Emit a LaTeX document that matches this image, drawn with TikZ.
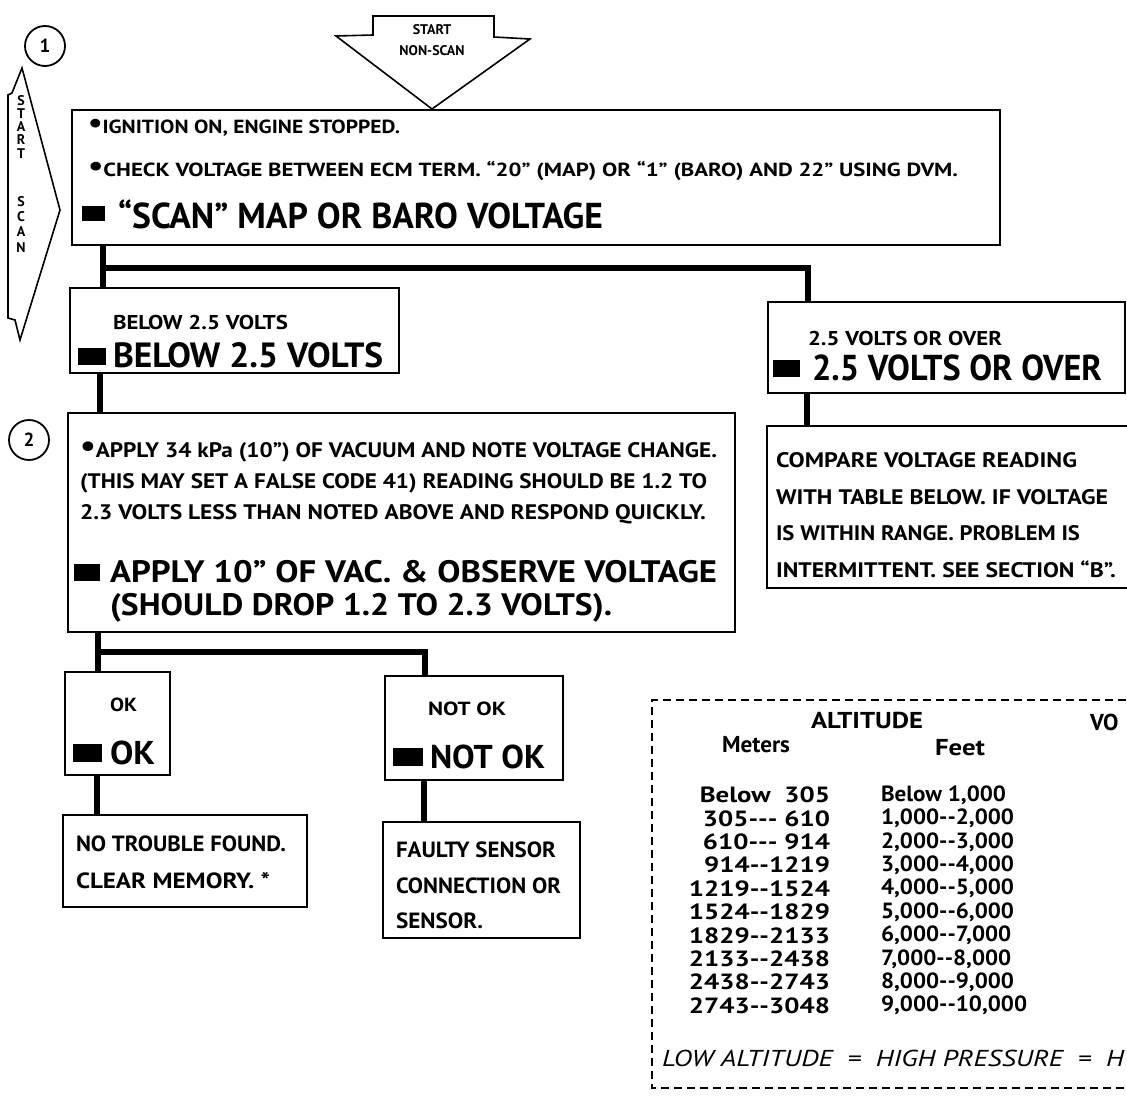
\documentclass[tikz,border=0pt]{standalone}
\usepackage{fontspec}
\setmainfont{PT Sans}
\usepackage{graphicx}
\newcommand\fw[2]{\resizebox{#1pt}{\height}{#2}}
\newcommand\dd{\mbox{-}\mbox{-}}
\newcommand\ddd{\mbox{-}\mbox{-}\mbox{-}}
\newcommand\bul{\raisebox{0.12ex}{\scalebox{1.5}{•}}}
\tikzset{
  box/.style={draw, line width=1.8pt, inner sep=0pt, outer sep=0pt, anchor=north west},
  openbox/.style={inner sep=0pt, outer sep=0pt, anchor=north west},
  conn/.style={line width=6.5pt},
  fs/.style={font=\bfseries\fontsize{#1}{#1}\selectfont},
  txt/.style={inner sep=0pt, outer sep=0pt, anchor=west},
  sq/.style={fill=black, draw=none, inner sep=0pt, outer sep=0pt, minimum width=#1, minimum height=15pt, anchor=west},
  circ/.style={draw, circle, line width=1.8pt, inner sep=0pt, minimum size=40pt, font=\bfseries\fontsize{19}{19}\selectfont},
  arr/.style={draw, line width=1.6pt, line join=miter},
  mrow/.style={inner sep=0pt, outer sep=0pt, anchor=east, font=\bfseries\fontsize{22}{22}\selectfont},
  frow/.style={inner sep=0pt, outer sep=0pt, anchor=west, font=\bfseries\fontsize{22}{22}\selectfont},
  tabline/.style={line width=1.6pt, dash pattern=on 8pt off 5pt},
}
\begin{document}
\begin{tikzpicture}[x=1pt,y=-1pt]
\useasboundingbox[fill=white] (0,0) rectangle (1127,1099);
\clip (0,0) rectangle (1127,1099);

% circles
\node[circ] (c1) at (45,46) {1};
\node[circ] (c2) at (29,440) {2};

% START NON-SCAN arrow
\draw[arr] (373,16) -- (494,16) -- (494,37) -- (530,39) -- (432,109) -- (336,36) -- (373,35) -- cycle;
\node[fs=14] (ns1) at (432,30) {START};
\node[fs=14] (ns2) at (432,51) {NON-SCAN};

% START SCAN arrow
\draw[arr] (22,68) -- (60,210) -- (20,340) -- (15,320) -- (8,318) -- (8,95) -- (12,93) -- cycle;
\foreach \l/\y [count=\i] in {S/101,T/114,A/127,R/140,T/154,S/202,C/217,A/232,N/248}
  \node[fs=14] (ss\i) at (21,\y) {\l};

% box 1
\node[box, minimum width=928pt, minimum height=135pt] (b1) at (72,110) {};
\node[txt,fs=19] (t1a) at (88,128) {\fw{312}{\bul IGNITION ON, ENGINE STOPPED.}};
\node[txt,fs=19] (t1b) at (88,171) {\fw{870}{\bul CHECK VOLTAGE BETWEEN ECM TERM. “20” (MAP) OR “1” (BARO) AND 22” USING DVM.}};
\node[sq=23pt] (q1) at (82,214) {};
\node[txt,fs=36] (t1c) at (118,214) {\fw{485}{“SCAN” MAP OR BARO VOLTAGE}};

% box 2
\node[box, minimum width=329pt, minimum height=85pt] (b2) at (70,288) {};
\node[txt,fs=20] (t2a) at (113,322) {\fw{175}{BELOW 2.5 VOLTS}};
\node[sq=28pt, minimum height=17pt] (q2) at (78,356) {};
\node[txt,fs=35] (t2b) at (113,355) {\fw{270}{BELOW 2.5  VOLTS}};

% box 3
\node[box, minimum width=357pt, minimum height=91pt] (b3) at (768,302) {};
\node[txt,fs=20] (t3a) at (808,338) {\fw{194}{2.5 VOLTS OR OVER}};
\node[sq=27pt, minimum height=17pt] (q3) at (773,368) {};
\node[txt,fs=36] (t3b) at (812,368) {\fw{290}{2.5 VOLTS OR OVER}};

% box 4
\node[box, minimum width=667pt, minimum height=219pt] (b4) at (68,413) {};
\node[txt,fs=21] (t4a) at (80,452) {\fw{637}{\bul APPLY 34 kPa (10”) OF VACUUM AND NOTE VOLTAGE CHANGE.}};
\node[txt,fs=21] (t4b) at (80,483) {\fw{627}{(THIS MAY SET A FALSE CODE 41)  READING SHOULD BE 1.2 TO}};
\node[txt,fs=21] (t4c) at (80,514) {\fw{626}{2.3 VOLTS LESS THAN NOTED ABOVE AND RESPOND QUICKLY.}};
\node[sq=26pt, minimum height=17pt] (q4) at (74,572) {};
\node[txt,fs=31] (t4d) at (110,572) {\fw{607}{APPLY 10” OF VAC. \& OBSERVE VOLTAGE}};
\node[txt,fs=31] (t4e) at (110,608) {\fw{502}{(SHOULD DROP 1.2 TO 2.3 VOLTS).}};

% box 5 (right side cut off)
\node[openbox, minimum width=380pt, minimum height=162pt] (b5) at (767,426) {};
\draw[line width=1.8pt] (b5.north east) -- (b5.north west) -- (b5.south west) -- (b5.south east);
\node[txt,fs=21] (t5a) at (776,460) {\fw{301}{COMPARE VOLTAGE READING}};
\node[txt,fs=21] (t5b) at (776,497) {\fw{332}{WITH TABLE BELOW.  IF VOLTAGE}};
\node[txt,fs=21] (t5c) at (776,533) {\fw{304}{IS WITHIN RANGE. PROBLEM IS}};
\node[txt,fs=21] (t5d) at (776,569) {\fw{340}{INTERMITTENT.  SEE  SECTION “B”.}};

% OK box
\node[box, minimum width=105pt, minimum height=103pt] (ok) at (65,672) {};
\node[txt,fs=19] (tok1) at (110,705) {\fw{27}{OK}};
\node[sq=29pt, minimum height=18pt] (qok) at (73,753) {};
\node[txt,fs=33] (tok2) at (110,753) {\fw{45}{OK}};

% NOT OK box
\node[box, minimum width=178pt, minimum height=104pt] (nok) at (385,676) {};
\node[txt,fs=19] (tnok1) at (428,709) {\fw{78}{NOT OK}};
\node[sq=30pt, minimum height=18pt] (qnok) at (393,757) {};
\node[txt,fs=33] (tnok2) at (430,757) {\fw{115}{NOT OK}};

% NO TROUBLE box
\node[box, minimum width=244pt, minimum height=92pt] (ntf) at (63,815) {};
\node[txt,fs=22] (tn1) at (76,844) {\fw{210}{NO TROUBLE FOUND.}};
\node[txt,fs=22] (tn2) at (76,881) {\fw{194}{CLEAR MEMORY.  *}};

% FAULTY box
\node[box, minimum width=197pt, minimum height=116pt] (fs) at (383,822) {};
\node[txt,fs=22] (tf1) at (396,850) {\fw{160}{FAULTY SENSOR}};
\node[txt,fs=22] (tf2) at (396,886) {\fw{165}{CONNECTION OR}};
\node[txt,fs=22] (tf3) at (396,921) {\fw{87}{SENSOR.}};

% connectors
\coordinate (j1) at (103,268);
\coordinate (j2) at (98,652);
\draw[conn] ([xshift=31pt]b1.south west) -- ([xshift=33pt]b2.north west);
\draw[conn, line join=miter] (j1) -| ([xshift=40pt]b3.north west);
\draw[conn] ([xshift=30pt]b2.south west) -- ([xshift=32pt]b4.north west);
\draw[conn] ([xshift=39pt]b3.south west) -- ([xshift=40pt]b5.north west);
\draw[conn] ([xshift=30pt]b4.south west) -- ([xshift=33pt]ok.north west);
\draw[conn, line join=miter] (j2) -| ([xshift=40pt]nok.north west);
\draw[conn] ([xshift=32pt]ok.south west) -- ([xshift=34pt]ntf.north west);
\draw[conn] ([xshift=39pt]nok.south west) -- ([xshift=41pt]fs.north west);

% altitude table (right side cut off)
\node[openbox, minimum width=500pt, minimum height=388pt] (tab) at (652,700) {};
\draw[tabline] (tab.north east) -- (tab.north west) -- (tab.south west) -- (tab.south east);
\node[fs=23] (alt) at (867,720) {\fw{112}{ALTITUDE}};
\node[txt,fs=23] (vo) at (1090,722) {VO};
\node[fs=23] (met) at (756,745) {\fw{68}{Meters}};
\node[fs=23] (feet) at (960,748) {\fw{50}{Feet}};
\foreach \m/\f [count=\i from 0] in {%
  {Below\ \ 305}/{Below 1,000},
  {305\ddd\ 610}/{1,000\dd2,000},
  {610\ddd\ 914}/{2,000\dd3,000},
  {914\dd1219}/{3,000\dd4,000},
  {1219\dd1524}/{4,000\dd5,000},
  {1524\dd1829}/{5,000\dd6,000},
  {1829\dd2133}/{6,000\dd7,000},
  {2133\dd2438}/{7,000\dd8,000},
  {2438\dd2743}/{8,000\dd9,000},
  {2743\dd3048}/{9,000\dd10,000}} {
  \node[mrow] (m\i) at (830,{795+23.4*\i}) {\scalebox{1.22}[1]{\m}};
  \node[frow] (f\i) at (881,{795+23.4*\i}) {\scalebox{1.05}[1]{\f}};
}
\node[txt, font=\itshape\fontsize{23}{23}\selectfont] (low) at (662,1058) {\fw{462}{LOW ALTITUDE\ \ =\ \ HIGH PRESSURE\ \ =\ \ H}};
\end{tikzpicture}
\end{document}
